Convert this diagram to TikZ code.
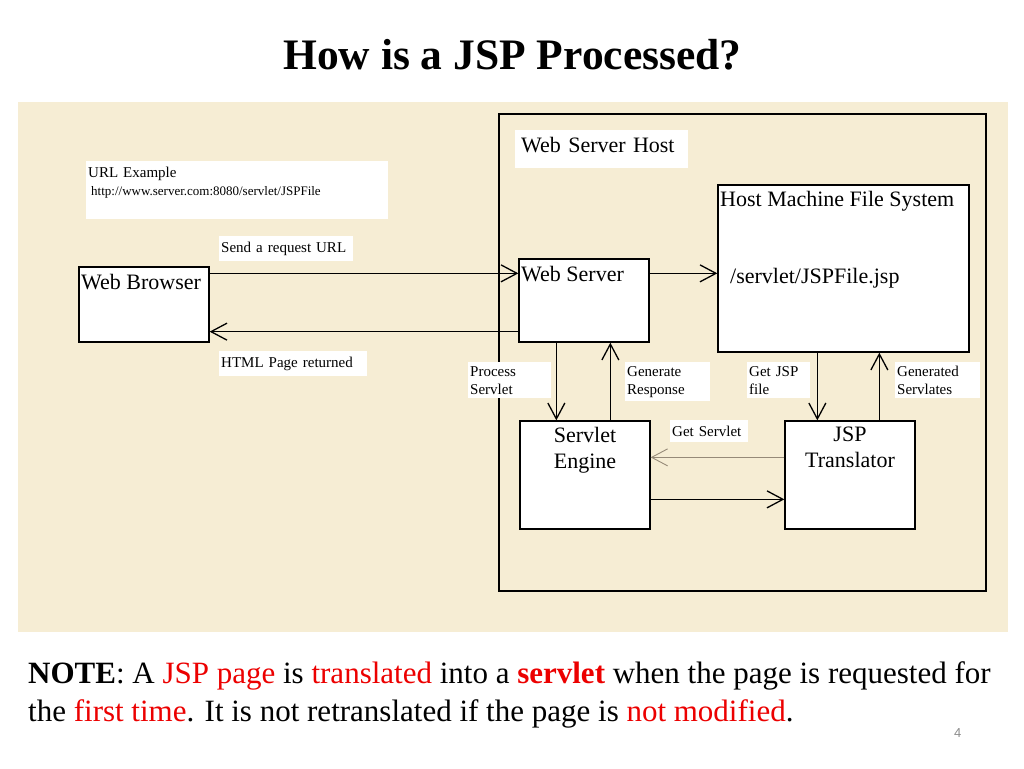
\documentclass[tikz,border=0pt]{standalone}
\usepackage{fontspec}
\setmainfont{Liberation Serif}
\newfontfamily\pagenofont{Liberation Sans}
\usetikzlibrary{arrows.meta}
\definecolor{parch}{RGB}{246,237,212}
\definecolor{notered}{RGB}{236,0,0}
\definecolor{getgray}{RGB}{150,138,120}
\definecolor{pgnum}{RGB}{140,140,140}
\begin{document}
\begin{tikzpicture}[x=1pt, y=-1pt,
  box/.style={draw, fill=white, line width=1.3, inner sep=0},
  boxtxt/.style={anchor=base west, inner sep=0, font=\fontsize{22}{26}\selectfont},
  lbl/.style={fill=white, anchor=base west, align=left, inner xsep=2, inner ysep=5.5, font=\fontsize{15}{18}\selectfont},
  lbltwo/.style={lbl, inner ysep=4},
  arr/.style={line width=1.3, -{Straight Barb[length=16pt, width=17pt]}},
  getarr/.style={arr, draw=getgray, line width=0.9}]
\useasboundingbox (0,0) rectangle (1024,768);
\fill[white] (0,0) rectangle (1024,768);
\fill[parch] (18,102) rectangle (1008,632);

\node[anchor=base west, inner sep=0, font=\fontsize{43.5}{50}\selectfont\bfseries] (title) at (283,70) {How is a JSP Processed?};

\node[draw, line width=1.3, minimum width=487, minimum height=477, inner sep=0] (host) at (742.5,352.5) {};
\node[lbl, inner xsep=6, inner ysep=7, text depth=9, text width=161, font=\fontsize{22}{26}\selectfont] (hostlbl) at (515,152) {Web Server Host};
\node[lbl, text width=298, text depth=36.5] (urllbl) at (86,177) {URL Example\\{\fontsize{13}{16}\selectfont\hspace*{3pt}http://www.server.com:8080/servlet/JSPFile}};

\node[box, minimum width=130, minimum height=75] (browser) at (144,304.5) {};
\node[boxtxt] (browsertxt) at (81,289) {Web Browser};
\node[box, minimum width=130, minimum height=83] (wserver) at (584,300.5) {};
\node[boxtxt] (wservertxt) at (521,281) {Web Server};
\node[box, minimum width=251, minimum height=167] (files) at (843.5,268.5) {};
\node[boxtxt] (filestxt) at (720,206) {Host Machine File System};
\node[boxtxt] (jspfile) at (730,283) {/servlet/JSPFile.jsp};
\node[box, minimum width=130, minimum height=108] (engine) at (585,475) {};
\node[boxtxt, anchor=north, align=center] (enginetxt) at (585,427) {Servlet\\Engine};
\node[box, minimum width=130, minimum height=108] (jspt) at (850,475) {};
\node[boxtxt, anchor=north, align=center] (jspttxt) at (850,427) {JSP\\Translator};

\draw[arr] ([yshift=-7]browser.north east) -- ([yshift=-15]wserver.north west);
\draw[arr] ([yshift=11]wserver.south west) -- ([yshift=11]browser.south east);
\draw[arr] ([yshift=-15]wserver.north east) -- ([yshift=-89]files.north west);
\draw[arr] ([xshift=38]wserver.south west) -- ([xshift=37]engine.north west);
\draw[arr] ([xshift=91]engine.north west) -- ([xshift=92]wserver.south west);
\draw[arr] ([xshift=100]files.south west) -- ([xshift=33]jspt.north west);
\draw[arr] ([xshift=95]jspt.north west) -- ([xshift=162]files.south west);
\draw[getarr] ([yshift=-37]jspt.north west) -- ([yshift=-37]engine.north east);
\draw[arr] ([yshift=-79]engine.north east) -- ([yshift=-79]jspt.north west);

\node[lbl, text width=130] (sendlbl) at (219,252) {Send a request URL};
\node[lbl, text width=144] (htmllbl) at (219,367) {HTML Page returned};
\node[lbltwo, text width=79] (proclbl) at (468,376) {Process\\Servlet};
\node[lbltwo, text width=81] (genlbl) at (625,376) {Generate\\Response};
\node[lbltwo, text width=59] (getjsplbl) at (747,376) {Get JSP\\file};
\node[lbltwo, text width=81] (servlatelbl) at (895,376) {Generated\\Servlates};
\node[lbl, text width=74] (getsrvlbl) at (670,436) {Get Servlet};

\node[anchor=base west, inner sep=0, font=\fontsize{31}{38}\selectfont] (note1) at (28,683) {\textbf{NOTE}: A \textcolor{notered}{JSP page} is \textcolor{notered}{translated} into a \textcolor{notered}{\textbf{servlet}} when the page is requested for};
\node[anchor=base west, inner sep=0, font=\fontsize{31}{38}\selectfont] (note2) at (28,721) {the \textcolor{notered}{first time}. It is not retranslated if the page is \textcolor{notered}{not modified}.};
\node[anchor=base west, inner sep=0, text=pgnum, font=\pagenofont\fontsize{13}{13}\selectfont] (pageno) at (954,737) {4};
\end{tikzpicture}
\end{document}
